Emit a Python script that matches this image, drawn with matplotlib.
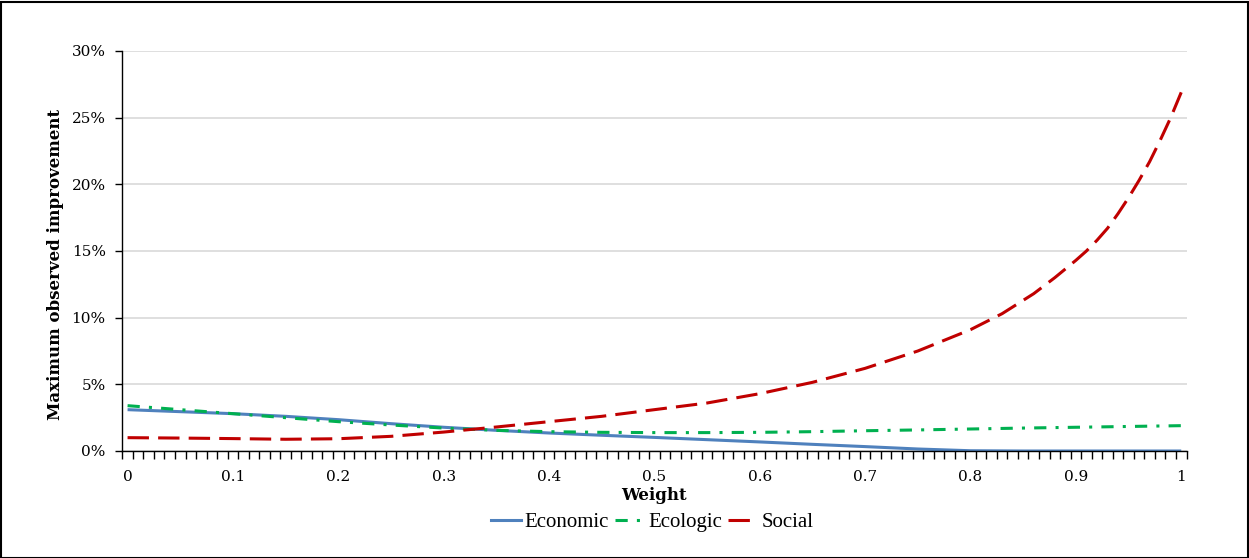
import matplotlib
matplotlib.use("Agg")
import matplotlib.pyplot as plt
import numpy as np
from matplotlib.patches import Rectangle
from matplotlib.lines import Line2D

# ---- data (values in %) ----
weights = [0.00, 0.05, 0.10, 0.15, 0.20, 0.25, 0.30, 0.35, 0.40, 0.45, 0.50,
           0.55, 0.60, 0.65, 0.70, 0.75, 0.80, 0.85, 0.90, 0.95, 1.00]
economic = [3.10, 2.95, 2.80, 2.60, 2.35, 2.05, 1.78, 1.55, 1.35, 1.18, 1.02,
            0.85, 0.68, 0.50, 0.33, 0.15, 0.02, 0.00, 0.00, 0.00, 0.00]
ecologic = [3.40, 3.10, 2.80, 2.50, 2.20, 1.95, 1.72, 1.55, 1.45, 1.40, 1.38,
            1.38, 1.40, 1.45, 1.52, 1.58, 1.65, 1.72, 1.78, 1.84, 1.90]
social_weights = [0.00, 0.05, 0.10, 0.15, 0.20, 0.25, 0.30, 0.35, 0.40, 0.45, 0.50,
                  0.55, 0.60, 0.65, 0.70, 0.75, 0.80, 0.83, 0.86, 0.88, 0.90, 0.91,
                  0.92, 0.93, 0.94, 0.95, 0.96, 0.97, 0.98, 0.99, 1.00]
social = [1.00, 0.97, 0.93, 0.88, 0.92, 1.10, 1.42, 1.80, 2.20, 2.60, 3.10,
          3.60, 4.30, 5.15, 6.20, 7.50, 9.10, 10.30, 11.80, 13.00, 14.30, 15.00,
          15.80, 16.70, 17.80, 19.00, 20.30, 21.70, 23.30, 25.00, 26.90]
series_names = ["Economic", "Ecologic", "Social"]
x_tick_labels = ["0", "0.1", "0.2", "0.3", "0.4", "0.5", "0.6", "0.7", "0.8", "0.9", "1"]
y_ticks = [0, 5, 10, 15, 20, 25, 30]

W, H = 1249, 558
fig = plt.figure(figsize=(W / 100, H / 100), dpi=100)
ax = fig.add_axes([122.3 / W, 1 - 451 / H, (1186.5 - 122.3) / W, 400 / H])

tick_font = dict(family="DejaVu Serif", size=11)
lw = 2.2

ax.plot(weights, economic, color="#4F81BD", lw=lw, solid_capstyle="butt", label=series_names[0])
ax.plot(weights, ecologic, color="#00B050", lw=lw, dashes=(4, 3, 1, 3), label=series_names[1])
ax.plot(social_weights, social, color="#C00000", lw=lw, dashes=(7, 3), label=series_names[2])

ax.set_xlim(-0.005, 1.005)
ax.set_ylim(0, 30)

# category-style x axis: ticks between categories, labels at category centers
ax.set_xticks(np.arange(0, 11) / 10)
ax.set_xticklabels(x_tick_labels, **tick_font)
ax.set_xticks(np.arange(102) * 0.01 - 0.005, minor=True)
ax.tick_params(axis="x", which="major", length=0, pad=14)
ax.tick_params(axis="x", which="minor", length=6, width=1, color="black", direction="out")

ax.set_yticks(y_ticks)
ax.set_yticklabels([f"{v}%" for v in y_ticks], **tick_font)
ax.tick_params(axis="y", which="major", length=5, width=1, color="black", pad=7)

ax.grid(axis="y", color="#D9D9D9", lw=1.2)
ax.set_axisbelow(True)
for s in ["top", "right"]:
    ax.spines[s].set_visible(False)
for s in ["left", "bottom"]:
    ax.spines[s].set_color("black")
    ax.spines[s].set_linewidth(1.0)

ax.set_ylabel("Maximum observed improvement", family="DejaVu Serif", weight="bold", size=12)
ax.yaxis.set_label_coords(-0.063, 0.4675)
ax.yaxis.label.set_va("center")
ax.set_xlabel("Weight", family="DejaVu Serif", weight="bold", size=12)
ax.xaxis.set_label_coords(0.5, -0.1125)
ax.xaxis.label.set_va("center")

handles = [
    Line2D([], [], color="#4F81BD", lw=lw),
    Line2D([], [], color="#00B050", lw=lw, dashes=(4, 3, 1, 3)),
    Line2D([], [], color="#C00000", lw=lw, dashes=(7, 3)),
]
fig.legend(handles, series_names, loc="center", bbox_to_anchor=(652 / W, 1 - 522 / H),
           ncol=3, frameon=False, prop=dict(family="Liberation Serif", size=15),
           handlelength=1.45, handletextpad=0.15, columnspacing=0.3)

fig.patches.append(Rectangle((0.5 / W, 0.5 / H), 1 - 2 / W, 1 - 2 / H, transform=fig.transFigure,
                             fill=False, edgecolor="black", lw=1.5))

fig.savefig("out.png", dpi=100)
